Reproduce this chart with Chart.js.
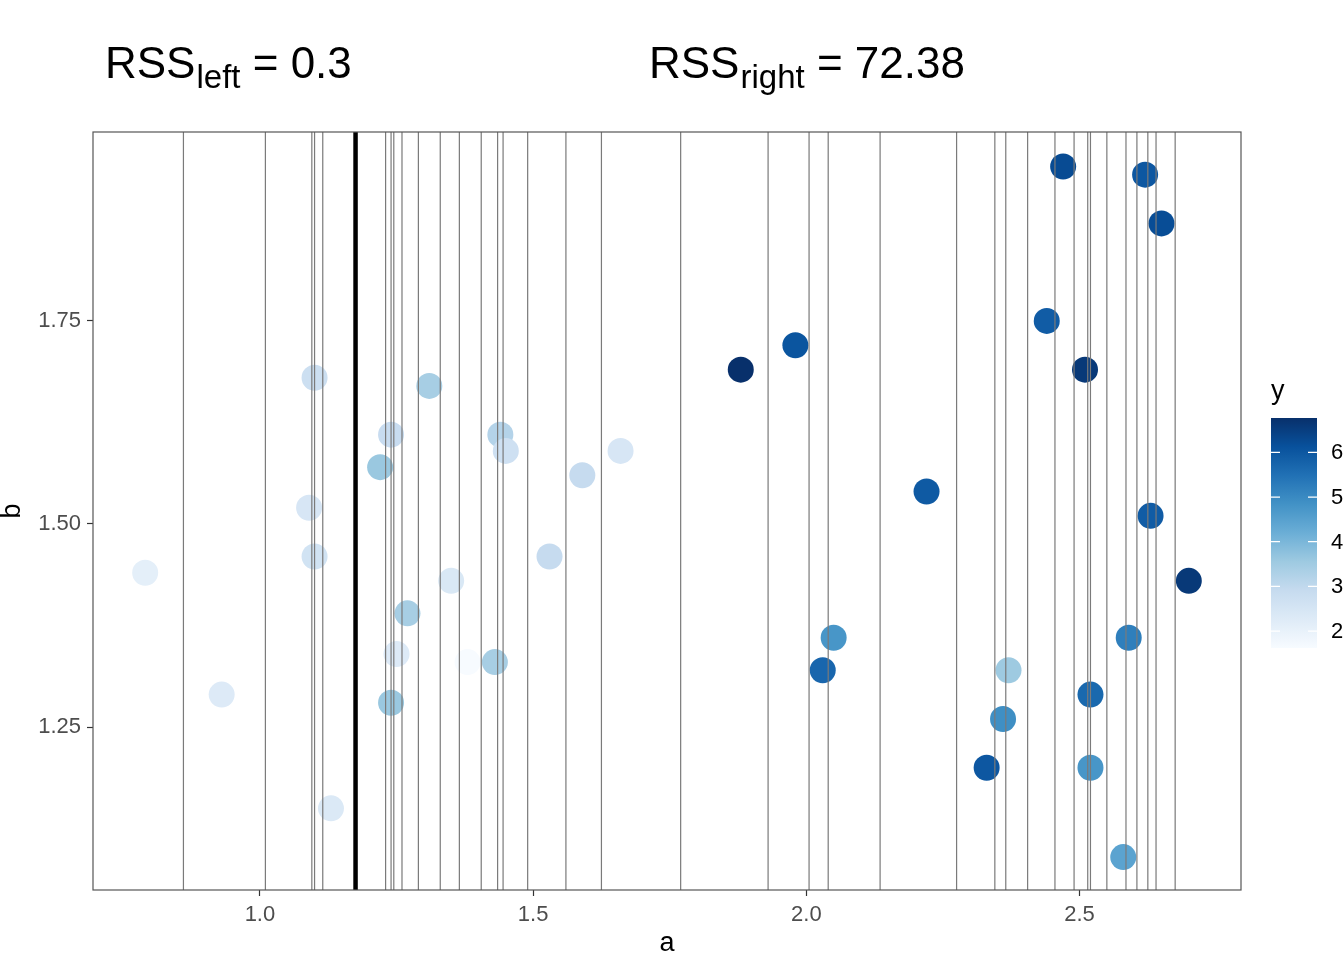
<!DOCTYPE html>
<html>
<head>
<meta charset="utf-8">
<script src="https://cdn.jsdelivr.net/npm/chart.js@4.4.1/dist/chart.umd.min.js"></script>
<style>
  html, body { margin: 0; padding: 0; background: #fff; }
  #wrap { width: 1344px; height: 960px; position: relative; }
</style>
</head>
<body>
<div id="wrap"><canvas id="splitChart"></canvas></div>
<script>
// Observations: predictor a, predictor b, response y (colour)
const aVals = [0.79, 0.93, 1.09, 1.10, 1.10, 1.13,
  1.22, 1.24, 1.24, 1.25, 1.27, 1.31, 1.35, 1.38, 1.43, 1.44, 1.45, 1.53, 1.59, 1.66,
  1.88, 1.98, 2.03, 2.05, 2.22, 2.33, 2.36, 2.37, 2.44, 2.47, 2.51, 2.52, 2.52,
  2.58, 2.59, 2.62, 2.63, 2.65, 2.70];
const bVals = [1.44, 1.29, 1.52, 1.68, 1.46, 1.15,
  1.57, 1.61, 1.28, 1.34, 1.39, 1.67, 1.43, 1.33, 1.33, 1.61, 1.59, 1.46, 1.56, 1.59,
  1.69, 1.72, 1.32, 1.36, 1.54, 1.20, 1.26, 1.32, 1.75, 1.94, 1.69, 1.29, 1.20,
  1.09, 1.36, 1.93, 1.51, 1.87, 1.43];
const yVals = [2.10, 2.30, 2.45, 2.75, 2.60, 2.35,
  3.60, 2.85, 3.60, 2.30, 3.40, 3.40, 2.40, 1.62, 3.40, 3.20, 2.70, 2.90, 2.90, 2.45,
  6.77, 6.05, 5.70, 4.75, 5.95, 6.00, 4.90, 3.55, 5.90, 6.25, 6.60, 5.65, 4.75,
  4.45, 5.20, 6.00, 5.90, 6.20, 6.60];

// Candidate split points on a, and the chosen one
const splitLines = [0.86, 1.01, 1.095, 1.10, 1.115, 1.175, 1.23, 1.24, 1.245, 1.26,
  1.29, 1.33, 1.365, 1.405, 1.435, 1.445, 1.49, 1.56, 1.625, 1.77, 1.93, 2.005, 2.04,
  2.135, 2.275, 2.345, 2.365, 2.405, 2.455, 2.49, 2.515, 2.52, 2.55, 2.585, 2.605,
  2.625, 2.64, 2.675];
const bestSplit = 1.175;

const rssLeft = '0.3';
const rssRight = '72.38';

const xTickVals = [1.0, 1.5, 2.0, 2.5];
const xTickLabels = ['1.0', '1.5', '2.0', '2.5'];
const yTickVals = [1.25, 1.50, 1.75];
const yTickLabels = ['1.25', '1.50', '1.75'];
const legendTicks = [2, 3, 4, 5, 6];

const blues = ['#F7FBFF', '#DEEBF7', '#C6DBEF', '#9ECAE1', '#6BAED6',
  '#4292C6', '#2171B5', '#08519C', '#08306B'];

const xMin = 0.6945, xMax = 2.7955;
const yMin = 1.0495, yMax = 1.9825;
const yLo = Math.min(...yVals), yHi = Math.max(...yVals);

const FONT = '"Liberation Sans", Arial, Helvetica, sans-serif';

function hexToRgb(h) {
  const n = parseInt(h.slice(1), 16);
  return [(n >> 16) & 255, (n >> 8) & 255, n & 255];
}

// Colour for a response value, linear along the Blues palette
function blueAt(v) {
  const t = Math.max(0, Math.min(1, (v - yLo) / (yHi - yLo))) * (blues.length - 1);
  const i = Math.min(Math.floor(t), blues.length - 2);
  const f = t - i;
  const c0 = hexToRgb(blues[i]), c1 = hexToRgb(blues[i + 1]);
  const c = c0.map((c, k) => Math.round(c + (c1[k] - c) * f));
  return `rgb(${c[0]}, ${c[1]}, ${c[2]})`;
}

function vlineData(xs) {
  const out = [];
  xs.forEach(x => {
    out.push({ x: x, y: yMin }, { x: x, y: yMax }, { x: x, y: null });
  });
  return out;
}

const points = aVals.map((a, i) => ({ x: a, y: bVals[i] }));
const pointColors = yVals.map(blueAt);

// Panel border, RSS headings and colour bar
const extras = {
  id: 'extras',
  afterDatasetsDraw(chart) {
    const { ctx, chartArea: ca } = chart;
    ctx.save();
    ctx.strokeStyle = '#555';
    ctx.lineWidth = 1.2;
    ctx.strokeRect(ca.left, ca.top, ca.right - ca.left, ca.bottom - ca.top);
    ctx.restore();
  },
  afterDraw(chart) {
    const ctx = chart.ctx;
    ctx.save();
    ctx.fillStyle = '#000';
    ctx.textBaseline = 'alphabetic';
    ctx.textAlign = 'left';

    function rss(x, sub, value) {
      ctx.font = `44px ${FONT}`;
      ctx.fillText('RSS', x, 78);
      x += ctx.measureText('RSS').width + 1;
      ctx.font = `33px ${FONT}`;
      ctx.fillText(sub, x, 88);
      x += ctx.measureText(sub).width;
      ctx.font = `44px ${FONT}`;
      ctx.fillText(' = ' + value, x, 78);
    }
    rss(105, 'left', rssLeft);
    rss(649, 'right', rssRight);

    // colour bar legend
    const x0 = 1271, x1 = 1317, top = 418, bottom = 648;
    const grad = ctx.createLinearGradient(0, bottom, 0, top);
    blues.forEach((c, i) => grad.addColorStop(i / (blues.length - 1), c));
    ctx.fillStyle = grad;
    ctx.fillRect(x0, top, x1 - x0, bottom - top);

    ctx.font = `27px ${FONT}`;
    ctx.fillStyle = '#000';
    ctx.fillText('y', x0, 399);

    ctx.font = `22px ${FONT}`;
    ctx.textBaseline = 'middle';
    legendTicks.forEach(v => {
      const py = bottom - (v - yLo) / (yHi - yLo) * (bottom - top);
      ctx.strokeStyle = '#fff';
      ctx.lineWidth = 1.2;
      ctx.beginPath();
      ctx.moveTo(x0, py); ctx.lineTo(x0 + 9, py);
      ctx.moveTo(x1 - 9, py); ctx.lineTo(x1, py);
      ctx.stroke();
      ctx.fillStyle = '#000';
      ctx.fillText(String(v), 1331, py + 1);
    });
    ctx.restore();
  }
};

new Chart(document.getElementById('splitChart'), {
  type: 'scatter',
  data: {
    datasets: [
      {
        data: vlineData([bestSplit]),
        showLine: true,
        borderColor: '#000',
        borderWidth: 4.5,
        pointRadius: 0,
        order: 0
      },
      {
        data: vlineData(splitLines),
        showLine: true,
        borderColor: '#7a7a7a',
        borderWidth: 1.2,
        pointRadius: 0,
        order: 1
      },
      {
        data: points,
        pointRadius: 13,
        pointHoverRadius: 13,
        pointBorderWidth: 0,
        pointBackgroundColor: pointColors,
        pointBorderColor: pointColors,
        order: 2
      }
    ]
  },
  options: {
    responsive: true,
    maintainAspectRatio: false,
    animation: false,
    events: [],
    layout: { padding: { top: 132, right: 103, left: 0, bottom: 0 } },
    plugins: {
      legend: { display: false },
      tooltip: { enabled: false }
    },
    scales: {
      x: {
        type: 'linear',
        min: xMin,
        max: xMax,
        afterFit(scale) { scale.height = 70; },
        afterBuildTicks(scale) { scale.ticks = xTickVals.map(v => ({ value: v })); },
        grid: { drawOnChartArea: false, drawTicks: true, tickLength: 6, tickColor: '#333', tickWidth: 1.2 },
        border: { display: false },
        ticks: {
          padding: 6,
          color: '#4d4d4d',
          font: { family: FONT, size: 22 },
          maxRotation: 0,
          callback: v => xTickLabels[xTickVals.indexOf(v)]
        },
        title: {
          display: true,
          text: 'a',
          color: '#000',
          font: { family: FONT, size: 27, lineHeight: 1.2 },
          padding: { top: 0, bottom: 0 }
        }
      },
      y: {
        type: 'linear',
        min: yMin,
        max: yMax,
        afterFit(scale) { scale.width = 93; },
        afterBuildTicks(scale) { scale.ticks = yTickVals.map(v => ({ value: v })); },
        grid: { drawOnChartArea: false, drawTicks: true, tickLength: 6, tickColor: '#333', tickWidth: 1.2 },
        border: { display: false },
        ticks: {
          padding: 6,
          color: '#4d4d4d',
          font: { family: FONT, size: 22 },
          callback: v => yTickLabels[yTickVals.indexOf(v)]
        },
        title: {
          display: true,
          text: 'b',
          color: '#000',
          font: { family: FONT, size: 27, lineHeight: 0.9 },
          padding: { top: 0, bottom: 0 }
        }
      }
    }
  },
  plugins: [extras]
});
</script>
</body>
</html>
